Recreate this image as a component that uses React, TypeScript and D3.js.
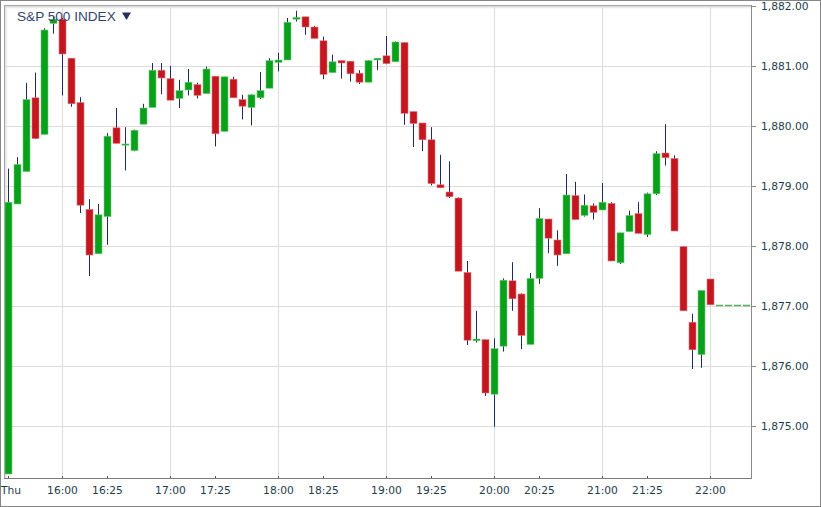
import React from "react";
import * as d3 from "d3";

// 5-minute candles, Thursday session starting 15:30
const sessionStart = "15:30";
const opens = [
  1874.2, 1878.7, 1879.24, 1880.47, 1879.86, 1881.71, 1881.78, 1881.13, 1880.39, 1878.61,
  1877.87, 1878.49, 1879.97, 1879.69, 1879.59, 1880.03, 1880.31, 1880.93, 1880.79, 1880.46,
  1880.6, 1880.69, 1880.54, 1880.83, 1879.91, 1880.78, 1880.44, 1880.31, 1880.47, 1880.63,
  1881.06, 1881.1, 1881.78, 1881.82, 1881.65, 1881.42, 1880.89, 1881.09, 1881.08, 1880.88,
  1880.73, 1881.1, 1881.17, 1881.07, 1881.39, 1880.24, 1880.05, 1879.77, 1879.02, 1878.9,
  1878.8, 1877.56, 1876.42, 1876.44, 1875.53, 1876.33, 1877.42, 1877.2, 1876.36, 1877.46,
  1878.45, 1878.1, 1877.87, 1878.84, 1878.51, 1878.67, 1878.6, 1878.71, 1877.72, 1878.24,
  1878.54, 1878.19, 1878.87, 1879.55, 1879.46, 1877.99, 1876.73, 1876.19, 1877.45,
];
const highs = [
  1879.29, 1879.48, 1880.72, 1880.89, 1881.63, 1881.82, 1881.8, 1881.13, 1880.48, 1878.78,
  1878.7, 1879.88, 1880.3, 1879.98, 1879.94, 1880.37, 1881.05, 1881.05, 1881.0, 1880.77,
  1880.95, 1880.72, 1880.99, 1880.83, 1880.82, 1880.82, 1880.52, 1880.53, 1880.9, 1881.13,
  1881.22, 1881.8, 1881.92, 1881.82, 1881.67, 1881.49, 1881.19, 1881.09, 1881.08, 1880.93,
  1881.1, 1881.13, 1881.5, 1881.41, 1881.4, 1880.24, 1880.05, 1879.98, 1879.52, 1879.41,
  1878.81, 1877.75, 1876.92, 1876.44, 1876.46, 1877.46, 1877.73, 1877.21, 1877.55, 1878.63,
  1878.45, 1878.26, 1879.2, 1879.07, 1878.86, 1878.71, 1879.05, 1878.73, 1878.22, 1878.59,
  1878.73, 1878.89, 1879.58, 1880.03, 1879.51, 1877.99, 1876.87, 1877.26, 1877.45,
];
const lows = [
  1874.2, 1878.7, 1879.24, 1879.78, 1879.86, 1881.54, 1880.51, 1880.32, 1878.55, 1877.5,
  1877.87, 1878.02, 1879.71, 1879.26, 1879.58, 1880.03, 1880.31, 1880.53, 1880.43, 1880.3,
  1880.51, 1880.46, 1880.54, 1879.66, 1879.91, 1880.47, 1880.11, 1880.01, 1880.45, 1880.63,
  1880.91, 1881.1, 1881.74, 1881.52, 1881.46, 1880.78, 1880.89, 1880.79, 1880.74, 1880.7,
  1880.73, 1880.93, 1881.03, 1881.07, 1880.02, 1879.65, 1879.58, 1879.01, 1878.97, 1878.8,
  1877.58, 1876.35, 1876.39, 1875.5, 1874.99, 1876.24, 1876.92, 1876.28, 1876.36, 1877.37,
  1877.88, 1877.67, 1877.87, 1878.44, 1878.49, 1878.44, 1878.6, 1877.75, 1877.7, 1878.24,
  1878.21, 1878.15, 1878.85, 1879.34, 1878.25, 1876.92, 1875.95, 1875.97, 1877.02,
];
const closes = [
  1878.73, 1879.36, 1880.44, 1879.79, 1881.6, 1881.78, 1881.2, 1880.37, 1878.68, 1877.85,
  1878.52, 1879.83, 1879.71, 1879.7, 1879.93, 1880.3, 1880.93, 1880.8, 1880.43, 1880.59,
  1880.73, 1880.51, 1880.95, 1879.87, 1880.82, 1880.47, 1880.33, 1880.52, 1880.59, 1881.09,
  1881.1, 1881.73, 1881.81, 1881.65, 1881.46, 1880.86, 1881.07, 1881.05, 1880.87, 1880.73,
  1881.09, 1881.13, 1881.04, 1881.4, 1880.21, 1880.04, 1879.77, 1879.04, 1878.97, 1878.82,
  1877.58, 1876.43, 1876.45, 1875.55, 1876.29, 1877.43, 1877.12, 1876.51, 1877.46, 1878.46,
  1878.13, 1877.85, 1878.85, 1878.44, 1878.68, 1878.56, 1878.73, 1877.75, 1878.22, 1878.51,
  1878.21, 1878.87, 1879.54, 1879.47, 1878.25, 1876.92, 1876.27, 1877.26, 1877.02,
];

const xTickTimes = ["15:30", "16:00", "16:25", "17:00", "17:25", "18:00", "18:25", "19:00", "19:25", "20:00", "20:25", "21:00", "21:25", "22:00"];
const xTickLabels = ["Thu", "16:00", "16:25", "17:00", "17:25", "18:00", "18:25", "19:00", "19:25", "20:00", "20:25", "21:00", "21:25", "22:00"];
const xGridTimes = ["16:00", "17:00", "18:00", "19:00", "20:00", "21:00", "22:00"];
const yTicks = [1875, 1876, 1877, 1878, 1879, 1880, 1881, 1882];
const title = "S&P 500 INDEX";

const parseT = d3.timeParse("%Y-%m-%d %H:%M");
const T = (hm: string) => parseT("2014-04-03 " + hm) as Date;

export default function App() {
  const W = 821, H = 507;
  const plotL = 4, plotR = 751, plotT = 5, plotB = 478;

  const start = T(sessionStart);
  const times = opens.map((_, i) => d3.timeMinute.offset(start, 5 * i));

  const x = d3.scaleTime().domain([T("15:30"), T("22:00")]).range([8, 710]);
  const y = d3.scaleLinear().domain([1874.15, 1882]).range([477, 6]);
  const fmt = d3.format(",.2f");

  const green = "#0aa01c";
  const red = "#c3161f";
  const wick = "#1f2b5e";
  const labelColor = "#1d3d4e";
  const tickFont = "'DejaVu Sans', Verdana, sans-serif";

  const last = closes[closes.length - 1];
  const lastX = x(times[times.length - 1]);

  return (
    <svg width={W} height={H} style={{ position: "fixed", left: 0, top: 0, background: "#fff" }}>
      <defs>
        <linearGradient id="shTop" x1="0" y1="0" x2="0" y2="1">
          <stop offset="0" stopColor="#b4b4b4" />
          <stop offset="1" stopColor="#ffffff" stopOpacity="0" />
        </linearGradient>
        <linearGradient id="shLeft" x1="0" y1="0" x2="1" y2="0">
          <stop offset="0" stopColor="#c4c4c4" />
          <stop offset="1" stopColor="#ffffff" stopOpacity="0" />
        </linearGradient>
        <clipPath id="plotClip">
          <rect x={plotL} y={plotT} width={plotR - plotL} height={plotB - plotT} />
        </clipPath>
      </defs>
      <rect x={0.5} y={0.5} width={W - 1} height={H - 1} fill="#fff" stroke="#858585" strokeWidth={1} />

      {/* inset shadows */}
      <rect x={plotL} y={plotT} width={plotR - plotL} height={5} fill="url(#shTop)" />
      <rect x={plotL} y={plotT} width={5} height={plotB - plotT} fill="url(#shLeft)" />
      <line x1={plotL} x2={plotR} y1={plotT + 0.5} y2={plotT + 0.5} stroke="#a8a8a8" />
      <line x1={plotL + 0.5} x2={plotL + 0.5} y1={plotT} y2={plotB} stroke="#a8a8a8" />

      {/* grid */}
      {yTicks.filter((v) => v < 1882).map((v) => (
        <line key={"gy" + v} x1={plotL + 1} x2={plotR} y1={Math.round(y(v)) + 0.5} y2={Math.round(y(v)) + 0.5} stroke="#dcdcdc" />
      ))}
      {xGridTimes.map((t) => (
        <line key={"gx" + t} x1={Math.round(x(T(t))) + 0.5} x2={Math.round(x(T(t))) + 0.5} y1={plotT + 1} y2={plotB} stroke="#dcdcdc" />
      ))}

      {/* candles */}
      <g clipPath="url(#plotClip)">
        {times.map((t, i) => {
          const cx = Math.round(x(t));
          const o = opens[i], c = closes[i];
          const up = c >= o;
          const top = y(Math.max(o, c));
          const bot = y(Math.min(o, c));
          const h = Math.max(1.2, bot - top);
          return (
            <g key={i}>
              <line x1={cx + 0.5} x2={cx + 0.5} y1={y(highs[i])} y2={y(lows[i])} stroke={wick} strokeWidth={1} />
              <rect x={cx - 3} y={top} width={7} height={h} fill={up ? green : red} stroke={up ? "#6fd07a" : "#e07a80"} strokeWidth={0.6} />
            </g>
          );
        })}
        <line x1={lastX + 6} x2={plotR} y1={Math.round(y(last)) + 0.5} y2={Math.round(y(last)) + 0.5} stroke="#4fb35a" strokeWidth={1.3} strokeDasharray="7 2" />
      </g>

      {/* axes */}
      <line x1={plotL} x2={plotR + 1} y1={plotB + 0.5} y2={plotB + 0.5} stroke="#7a7a7a" />
      <line x1={plotR + 0.5} x2={plotR + 0.5} y1={plotT} y2={plotB + 1} stroke="#8a8a8a" />

      {yTicks.map((v) => {
        const yy = Math.round(y(v)) + 0.5;
        return (
          <g key={"yt" + v}>
            <line x1={plotR + 1} x2={plotR + 5} y1={yy} y2={yy} stroke="#8a8a8a" />
            <text x={761} y={yy} dy="0.35em" fontFamily={tickFont} fontSize={10.7} fill={labelColor}>
              {fmt(v)}
            </text>
          </g>
        );
      })}

      {xTickTimes.map((t, i) => {
        const xx = Math.round(x(T(t))) + 0.5;
        const first = i === 0;
        return (
          <g key={"xt" + t}>
            <line x1={xx} x2={xx} y1={plotB - 2} y2={plotB} stroke="#555" />
            <text x={first ? 1 : xx} y={494} textAnchor={first ? "start" : "middle"} fontFamily={tickFont} fontSize={10.7} fill={labelColor}>
              {xTickLabels[i]}
            </text>
          </g>
        );
      })}

      {/* title */}
      <text x={17} y={21} fontFamily="'Liberation Sans', Arial, sans-serif" fontSize={13.6} fill="#35466e">
        {title}
      </text>
      <path d="M122,12.5 L131,12.5 L126.5,20 Z" fill="#23305e" />
    </svg>
  );
}
